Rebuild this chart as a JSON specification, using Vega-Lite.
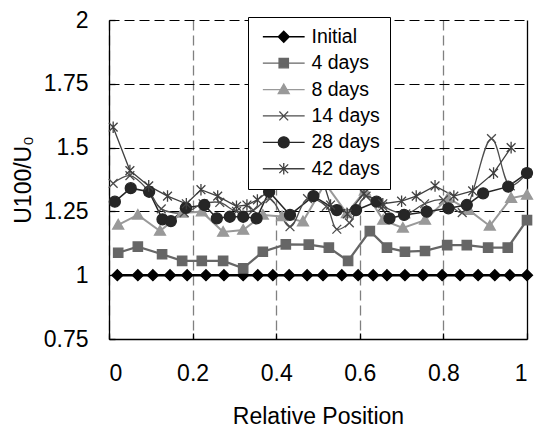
{
 "$schema": "https://vega.github.io/schema/vega-lite/v6.json",
 "width": 418, "height": 319,
 "autosize": {"type": "none"},
 "padding": {"left": 109, "top": 20, "right": 9, "bottom": 90},
 "background": "white",
 "config": {"view": {"stroke": null}, "font": "Liberation Sans"},
 "datasets": {
  "pts": [
   {"s":"Initial","x":0.02,"y":1},{"s":"Initial","x":0.069,"y":1},{"s":"Initial","x":0.105,"y":1},{"s":"Initial","x":0.146,"y":1},{"s":"Initial","x":0.187,"y":1},{"s":"Initial","x":0.232,"y":1},{"s":"Initial","x":0.275,"y":1},{"s":"Initial","x":0.321,"y":1},{"s":"Initial","x":0.356,"y":1},{"s":"Initial","x":0.392,"y":1},{"s":"Initial","x":0.431,"y":1},{"s":"Initial","x":0.474,"y":1},{"s":"Initial","x":0.512,"y":1},{"s":"Initial","x":0.557,"y":1},{"s":"Initial","x":0.596,"y":1},{"s":"Initial","x":0.632,"y":1},{"s":"Initial","x":0.665,"y":1},{"s":"Initial","x":0.708,"y":1},{"s":"Initial","x":0.751,"y":1},{"s":"Initial","x":0.797,"y":1},{"s":"Initial","x":0.84,"y":1},{"s":"Initial","x":0.883,"y":1},{"s":"Initial","x":0.923,"y":1},{"s":"Initial","x":0.959,"y":1},{"s":"Initial","x":1.0,"y":1},
   {"s":"4 days","x":0.022,"y":1.088},{"s":"4 days","x":0.069,"y":1.112},{"s":"4 days","x":0.127,"y":1.082},{"s":"4 days","x":0.175,"y":1.056},{"s":"4 days","x":0.222,"y":1.056},{"s":"4 days","x":0.273,"y":1.056},{"s":"4 days","x":0.321,"y":1.027},{"s":"4 days","x":0.368,"y":1.092},{"s":"4 days","x":0.423,"y":1.121},{"s":"4 days","x":0.478,"y":1.12},{"s":"4 days","x":0.526,"y":1.108},{"s":"4 days","x":0.572,"y":1.056},{"s":"4 days","x":0.624,"y":1.173},{"s":"4 days","x":0.665,"y":1.108},{"s":"4 days","x":0.708,"y":1.092},{"s":"4 days","x":0.756,"y":1.095},{"s":"4 days","x":0.809,"y":1.118},{"s":"4 days","x":0.856,"y":1.118},{"s":"4 days","x":0.907,"y":1.108},{"s":"4 days","x":0.954,"y":1.108},{"s":"4 days","x":1.0,"y":1.216},
   {"s":"8 days","x":0.022,"y":1.197},{"s":"8 days","x":0.069,"y":1.236},{"s":"8 days","x":0.122,"y":1.173},{"s":"8 days","x":0.175,"y":1.244},{"s":"8 days","x":0.222,"y":1.249},{"s":"8 days","x":0.273,"y":1.169},{"s":"8 days","x":0.321,"y":1.177},{"s":"8 days","x":0.368,"y":1.236},{"s":"8 days","x":0.414,"y":1.23},{"s":"8 days","x":0.464,"y":1.21},{"s":"8 days","x":0.517,"y":1.36},{"s":"8 days","x":0.569,"y":1.242},{"s":"8 days","x":0.612,"y":1.33},{"s":"8 days","x":0.656,"y":1.216},{"s":"8 days","x":0.703,"y":1.185},{"s":"8 days","x":0.756,"y":1.216},{"s":"8 days","x":0.811,"y":1.302},{"s":"8 days","x":0.861,"y":1.255},{"s":"8 days","x":0.911,"y":1.193},{"s":"8 days","x":0.962,"y":1.302},{"s":"8 days","x":1.0,"y":1.314},
   {"s":"14 days","x":0.01,"y":1.36},{"s":"14 days","x":0.05,"y":1.39},{"s":"14 days","x":0.095,"y":1.33},{"s":"14 days","x":0.125,"y":1.26},{"s":"14 days","x":0.18,"y":1.245},{"s":"14 days","x":0.225,"y":1.28},{"s":"14 days","x":0.265,"y":1.285},{"s":"14 days","x":0.305,"y":1.25},{"s":"14 days","x":0.345,"y":1.255},{"s":"14 days","x":0.385,"y":1.3},{"s":"14 days","x":0.433,"y":1.19},{"s":"14 days","x":0.475,"y":1.3},{"s":"14 days","x":0.52,"y":1.27},{"s":"14 days","x":0.545,"y":1.18},{"s":"14 days","x":0.575,"y":1.205},{"s":"14 days","x":0.615,"y":1.31},{"s":"14 days","x":0.655,"y":1.27},{"s":"14 days","x":0.71,"y":1.24},{"s":"14 days","x":0.755,"y":1.28},{"s":"14 days","x":0.8,"y":1.295},{"s":"14 days","x":0.845,"y":1.245},{"s":"14 days","x":0.915,"y":1.535},{"s":"14 days","x":0.96,"y":1.35},{"s":"14 days","x":1.0,"y":1.4},
   {"s":"28 days","x":0.014,"y":1.288},{"s":"28 days","x":0.052,"y":1.341},{"s":"28 days","x":0.096,"y":1.327},{"s":"28 days","x":0.128,"y":1.219},{"s":"28 days","x":0.148,"y":1.212},{"s":"28 days","x":0.184,"y":1.264},{"s":"28 days","x":0.228,"y":1.275},{"s":"28 days","x":0.258,"y":1.223},{"s":"28 days","x":0.289,"y":1.229},{"s":"28 days","x":0.321,"y":1.229},{"s":"28 days","x":0.353,"y":1.223},{"s":"28 days","x":0.383,"y":1.327},{"s":"28 days","x":0.433,"y":1.236},{"s":"28 days","x":0.489,"y":1.31},{"s":"28 days","x":0.545,"y":1.255},{"s":"28 days","x":0.591,"y":1.255},{"s":"28 days","x":0.64,"y":1.288},{"s":"28 days","x":0.671,"y":1.223},{"s":"28 days","x":0.706,"y":1.236},{"s":"28 days","x":0.76,"y":1.249},{"s":"28 days","x":0.812,"y":1.262},{"s":"28 days","x":0.856,"y":1.275},{"s":"28 days","x":0.895,"y":1.321},{"s":"28 days","x":0.955,"y":1.347},{"s":"28 days","x":1.0,"y":1.4},
   {"s":"42 days","x":0.01,"y":1.58},{"s":"42 days","x":0.05,"y":1.41},{"s":"42 days","x":0.095,"y":1.35},{"s":"42 days","x":0.14,"y":1.31},{"s":"42 days","x":0.185,"y":1.28},{"s":"42 days","x":0.22,"y":1.335},{"s":"42 days","x":0.26,"y":1.31},{"s":"42 days","x":0.305,"y":1.27},{"s":"42 days","x":0.33,"y":1.275},{"s":"42 days","x":0.355,"y":1.295},{"s":"42 days","x":0.405,"y":1.36},{"s":"42 days","x":0.46,"y":1.45},{"s":"42 days","x":0.51,"y":1.38},{"s":"42 days","x":0.53,"y":1.275},{"s":"42 days","x":0.57,"y":1.24},{"s":"42 days","x":0.61,"y":1.32},{"s":"42 days","x":0.655,"y":1.28},{"s":"42 days","x":0.7,"y":1.29},{"s":"42 days","x":0.735,"y":1.31},{"s":"42 days","x":0.78,"y":1.35},{"s":"42 days","x":0.825,"y":1.31},{"s":"42 days","x":0.87,"y":1.33},{"s":"42 days","x":0.92,"y":1.4},{"s":"42 days","x":0.962,"y":1.5}
  ]
 },
 "encoding": {
  "x": {"field": "x", "type": "quantitative", "scale": {"domain": [0, 1], "nice": false},
   "axis": {"values": [0, 0.2, 0.4, 0.6, 0.8, 1], "labelExpr": "'' + datum.value", "title": "Relative Position",
    "labelFontSize": 23, "titleFontSize": 23, "titleFontWeight": "normal", "labelColor": "black", "titleColor": "black",
    "domainColor": "black", "domainWidth": 1.3, "tickColor": "black", "tickSize": -6, "tickWidth": 1.3, "labelPadding": 29, "titlePadding": 20,
    "grid": true, "gridWidth": 1.3,
    "gridColor": {"condition": {"test": "datum.value == 1", "value": "black"}, "value": "#808080"},
    "gridDash": {"condition": {"test": "datum.value == 1", "value": []}, "value": [10, 5]}}},
  "y": {"field": "y", "type": "quantitative", "scale": {"domain": [0.75, 2], "nice": false},
   "axis": {"values": [0.75, 1, 1.25, 1.5, 1.75, 2], "labelExpr": "'' + datum.value", "title": "U100/U₀",
    "labelFontSize": 23, "titleFontSize": 23, "titleFontWeight": "normal", "labelColor": "black", "titleColor": "black",
    "domainColor": "black", "domainWidth": 1.3, "tickColor": "black", "tickSize": -6, "tickWidth": 1.3, "labelPadding": 27, "titlePadding": 8,
    "grid": true, "gridColor": "black", "gridWidth": 1, "gridDash": [10, 5]}}
 },
 "layer": [
  {"data": {"name": "pts"}, "transform": [{"filter": "datum.s != '14 days'"}],
   "mark": {"type": "line"},
   "encoding": {
    "stroke": {"field": "s", "type": "nominal", "legend": null,
     "scale": {"domain": ["Initial","4 days","8 days","14 days","28 days","42 days"], "range": ["#000000","#666666","#999999","#4d4d4d","#262626","#404040"]}},
    "strokeWidth": {"field": "s", "type": "nominal", "legend": null,
     "scale": {"domain": ["Initial","4 days","8 days","14 days","28 days","42 days"], "range": [2.5,1.3,1.3,1.3,1.5,1.3]}}}},
  {"data": {"name": "pts"}, "transform": [{"filter": "datum.s == '14 days'"}],
   "mark": {"type": "line", "interpolate": "catmull-rom", "strokeWidth": 1.3, "color": "#4d4d4d"}},
  {"data": {"name": "pts"},
   "mark": {"type": "point", "opacity": 1, "strokeWidth": 1.3, "size": 121},
   "encoding": {
    "shape": {"field": "s", "type": "nominal", "legend": null,
     "scale": {"domain": ["Initial","4 days","8 days","14 days","28 days","42 days"],
      "range": ["M0,-1L1,0L0,1L-1,0Z", "M-0.85,-0.85L0.85,-0.85L0.85,0.85L-0.85,0.85Z", "M0,-1L1,0.75L-1,0.75Z", "M-0.8,-0.8L0.8,0.8M-0.8,0.8L0.8,-0.8", "circle", "M-0.8,-0.8L0.8,0.8M-0.8,0.8L0.8,-0.8M0,-1.05L0,1.05"]}},
    "fill": {"field": "s", "type": "nominal", "legend": null,
     "scale": {"domain": ["Initial","4 days","8 days","14 days","28 days","42 days"], "range": ["#000000","#666666","#999999","#4d4d4d","#262626","#404040"]}},
    "stroke": {"field": "s", "type": "nominal", "legend": null,
     "scale": {"domain": ["Initial","4 days","8 days","14 days","28 days","42 days"], "range": ["#000000","#666666","#999999","#4d4d4d","#262626","#404040"]}}}},
  {"data": {"values": []},
   "mark": {"type": "point", "opacity": 1, "strokeWidth": 1.3, "size": 121},
   "encoding": {
    "x": {"value": 0}, "y": {"value": 0},
    "shape": {"field": "s", "type": "nominal",
     "legend": {"orient": "none", "legendX": 139, "legendY": -3, "title": null, "fillColor": "white", "strokeColor": "black",
      "padding": 10, "labelFontSize": 19.5, "labelColor": "black", "rowPadding": 5.4, "symbolOffset": 16, "labelOffset": 18,
      "symbolSize": 121, "symbolStrokeWidth": 1.3},
     "scale": {"domain": ["Initial","4 days","8 days","14 days","28 days","42 days"],
      "range": ["M-3.8,0L3.8,0M0,-1L1,0L0,1L-1,0Z", "M-3.8,0L3.8,0M-0.85,-0.85L0.85,-0.85L0.85,0.85L-0.85,0.85Z", "M-3.8,0L3.8,0M0,-1L1,0.75L-1,0.75Z", "M-3.8,0L3.8,0M-0.8,-0.8L0.8,0.8M-0.8,0.8L0.8,-0.8", "M-3.8,0L3.8,0M-1,0A1,1,0,1,0,1,0A1,1,0,1,0,-1,0Z", "M-3.8,0L3.8,0M-0.8,-0.8L0.8,0.8M-0.8,0.8L0.8,-0.8M0,-1.05L0,1.05"]}},
    "fill": {"field": "s", "type": "nominal",
     "legend": {"orient": "none", "legendX": 139, "legendY": -3, "title": null},
     "scale": {"domain": ["Initial","4 days","8 days","14 days","28 days","42 days"], "range": ["#000000","#666666","#999999","#4d4d4d","#262626","#404040"]}},
    "stroke": {"field": "s", "type": "nominal",
     "legend": {"orient": "none", "legendX": 139, "legendY": -3, "title": null},
     "scale": {"domain": ["Initial","4 days","8 days","14 days","28 days","42 days"], "range": ["#000000","#666666","#999999","#4d4d4d","#262626","#404040"]}}}}
 ],
 "resolve": {"scale": {"shape": "independent", "fill": "independent", "stroke": "independent", "strokeWidth": "independent"}}
}
